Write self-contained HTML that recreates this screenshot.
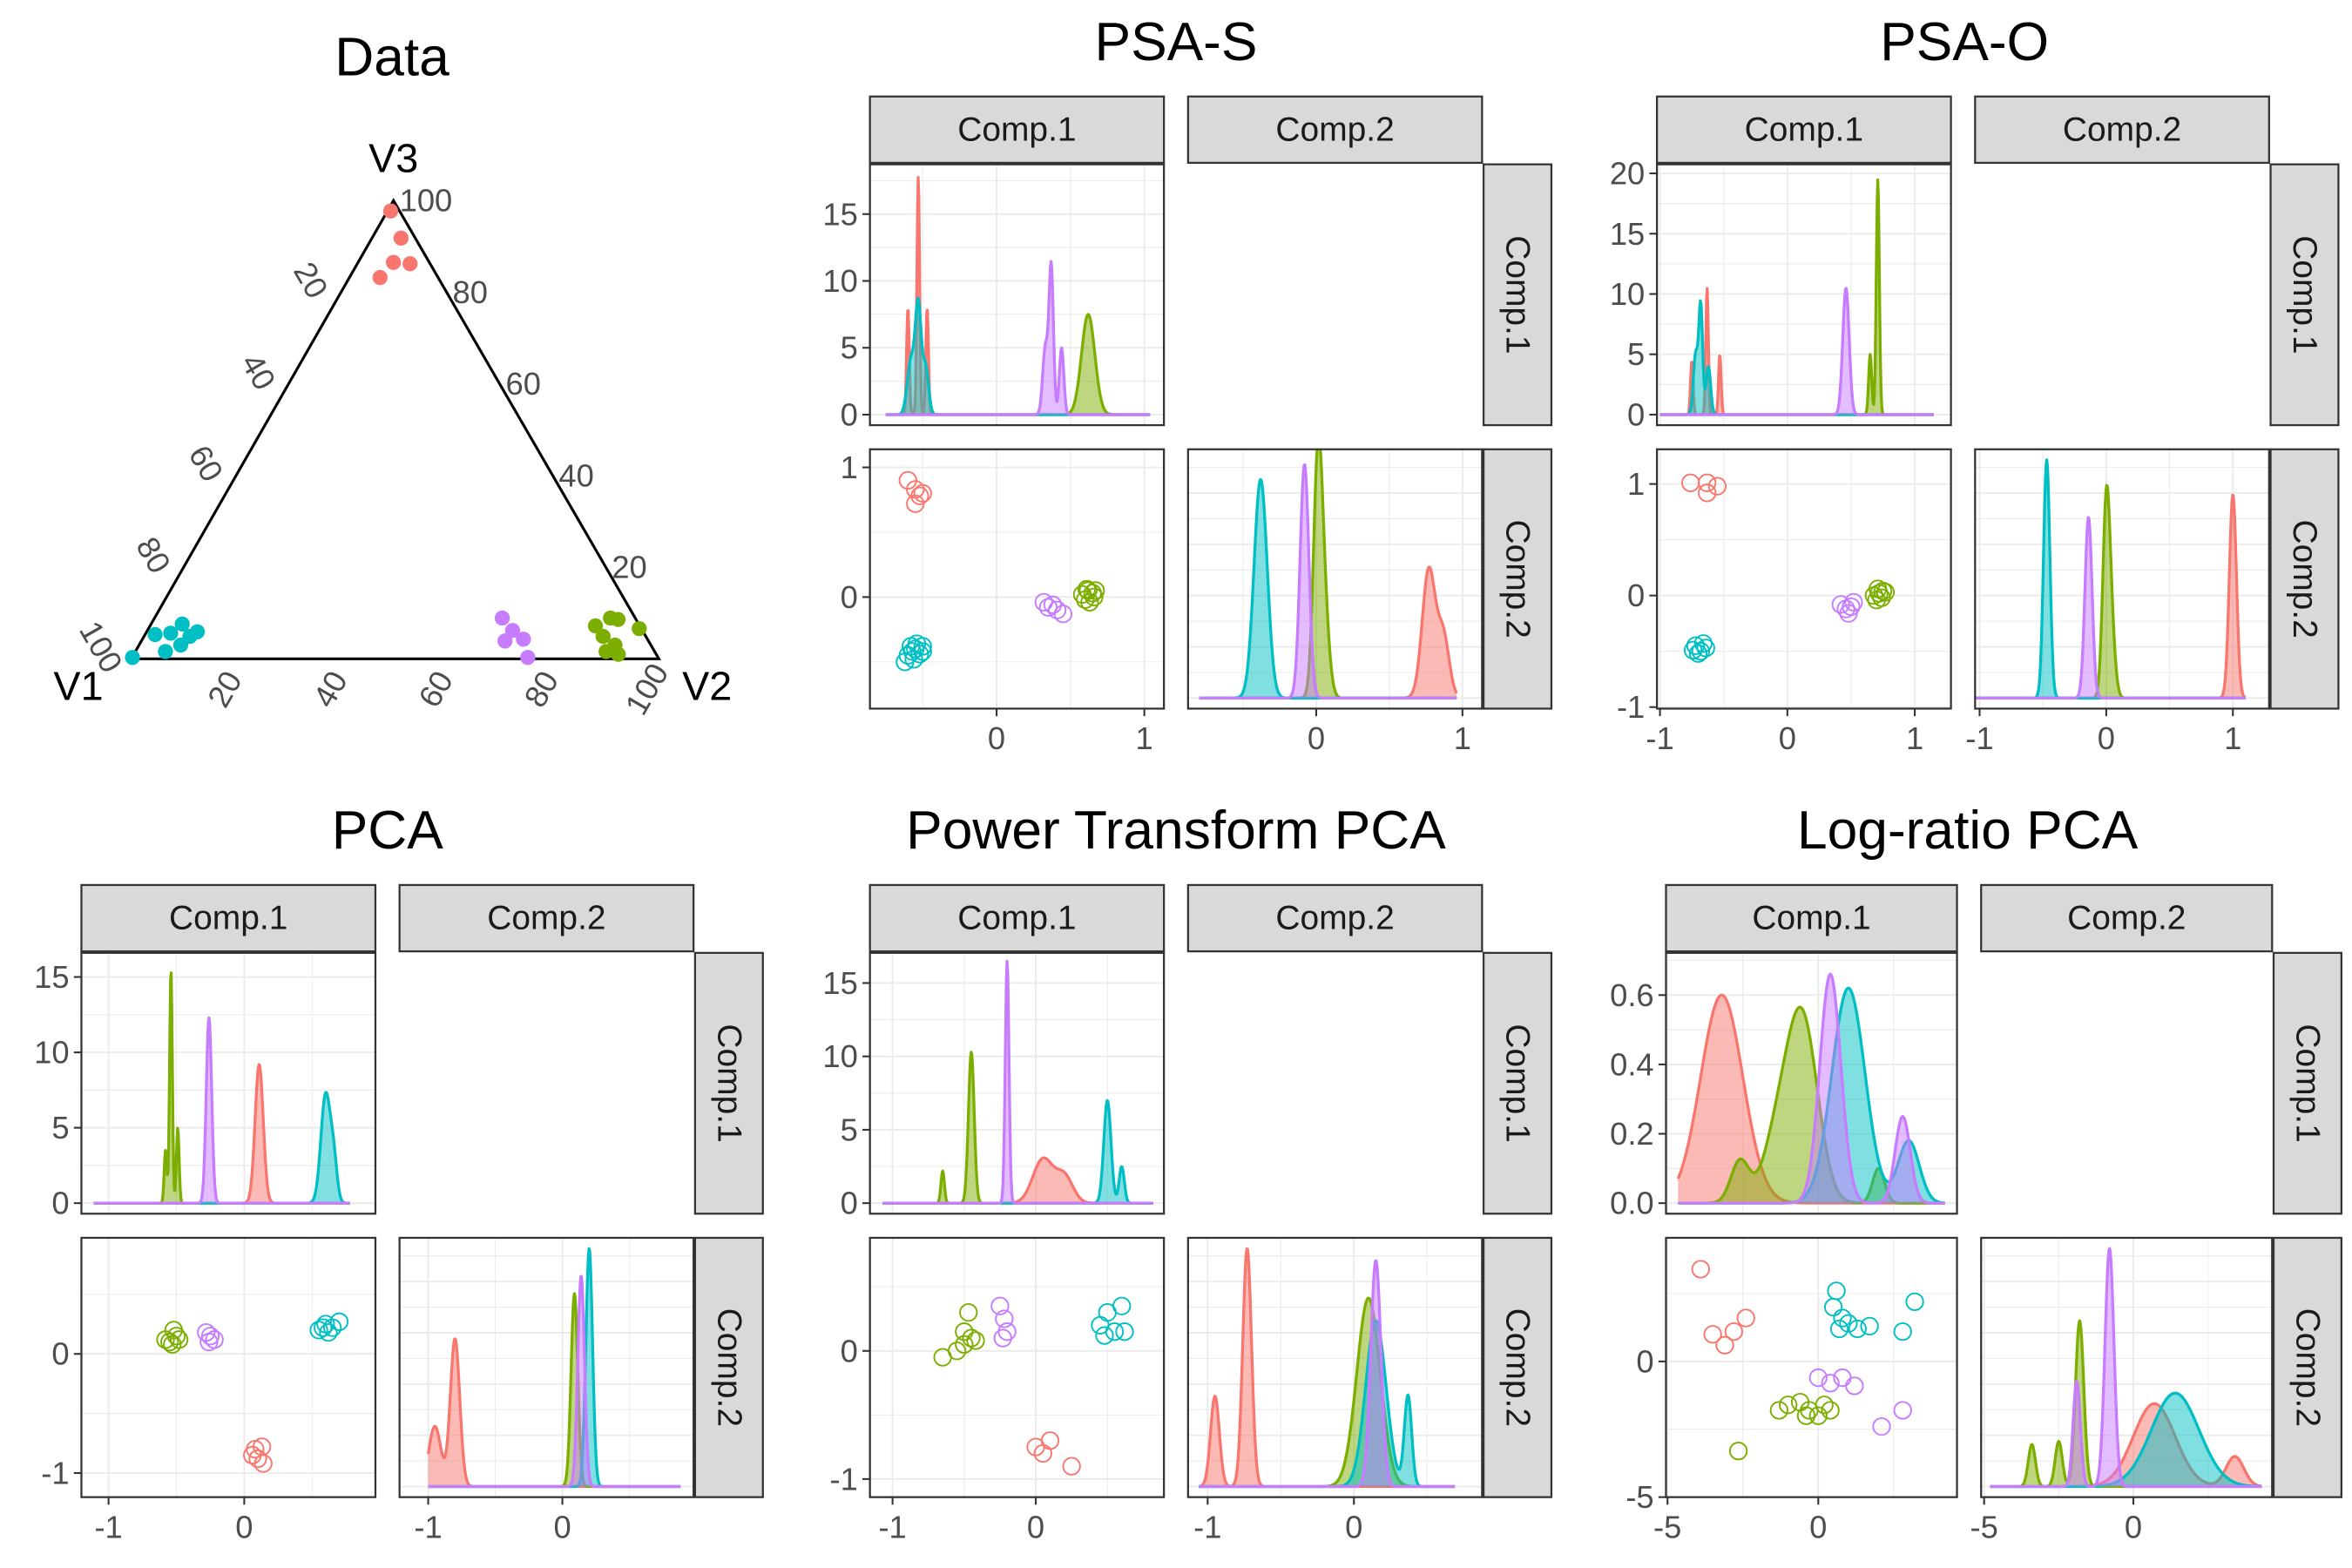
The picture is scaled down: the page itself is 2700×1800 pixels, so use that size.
<!DOCTYPE html>
<html><head><meta charset="utf-8"><style>body{margin:0;background:#fff}svg{display:block}text{font-family:"Liberation Sans",sans-serif}</style></head>
<body>
<svg id="fig" width="2700" height="1800" viewBox="0 0 1560 1040" xmlns="http://www.w3.org/2000/svg"></svg>
<script>
const COLORS = ['#F8766D','#7CAE00','#00BFC4','#C77CFF'];
// Ternary compositions [V1,V2,V3]
const terRed = [[.017,.006,.977],[.027,.055,.918],[.068,.067,.865],[.038,.1,.862],[.11,.058,.832]];
const terGreen = [[.084,.844,.072],[.047,.864,.089],[.034,.88,.086],[.081,.87,.049],[.068,.902,.03],[.092,.892,.016],[.072,.918,.01],[.004,.93,.066]];
const terCyan = [[.996,.001,.003],[.928,.019,.053],[.897,.047,.056],[.865,.059,.076],[.864,.087,.049],[.845,.096,.059],[.891,.079,.03],[.927,.057,.016]];
const terPurple = [[.252,.659,.089],[.246,.692,.062],[.272,.689,.039],[.235,.722,.043],[.247,.75,.003]];
const terTicks = [20,40,60,80,100];

// PSA-S
const psaS_d1 = [[[-0.6,.009,8],[-0.53,.009,17.8],[-0.47,.009,8]],[[0.62,.045,7.5]],[[-0.58,.025,4],[-0.53,.02,8],[-0.48,.02,3.5]],[[0.33,.018,5],[0.37,.015,11],[0.44,.015,5]]];
const psaS_sc = [[[-0.6,.9],[-0.55,.83],[-0.52,.78],[-0.5,.8],[-0.55,.72]],[[.58,.02],[.62,.05],[.65,.03],[.6,-.02],[.66,0],[.63,-.04],[.61,.06],[.67,.05]],[[-0.6,-0.45],[-0.55,-0.4],[-0.5,-0.38],[-0.57,-0.42],[-0.52,-0.44],[-0.62,-0.5],[-0.56,-0.48],[-0.5,-0.42],[-0.58,-0.38],[-0.54,-0.36]],[[.32,-.04],[.35,-.08],[.38,-.06],[.41,-.1],[.45,-.13]]];
const psaS_d2 = [[[0.77,.045,8.5],[0.87,.04,4]],[[0.01,.03,14],[0.05,.035,6]],[[-0.38,.045,14.5]],[[-0.08,.03,15.5]]];
// PSA-O
const psaO_d1 = [[[-0.75,.01,4.5],[-0.63,.01,10.5],[-0.53,.01,5]],[[0.65,.012,5],[0.71,.012,19.5]],[[-0.72,.018,5],[-0.68,.015,9],[-0.62,.018,4]],[[0.46,.025,10.5]]];
const psaO_sc = [[[-0.76,1.01],[-0.63,1.01],[-0.55,.98],[-0.63,.92]],[[.68,0],[.72,.02],[.75,.04],[.7,-.04],[.74,-.02],[.71,.06],[.77,.03]],[[-0.72,-0.45],[-0.68,-0.5],[-0.64,-0.47],[-0.7,-0.52],[-0.66,-0.43],[-0.74,-0.49]],[[.42,-.08],[.46,-.12],[.5,-.1],[.48,-.16],[.52,-.06]]];
const psaO_d2 = [[[1.0,.028,13.5]],[[0,.028,12.3],[.04,.03,4]],[[-0.47,.025,15.8]],[[-0.14,.028,12]]];
// PCA
const pca_d1 = [[[0.11,.03,9.2]],[[-0.58,.01,3.5],[-0.54,.01,15.5],[-0.49,.01,5]],[[0.6,.035,7.2],[0.66,.025,2.5]],[[-0.26,.02,12.3]]];
const pca_sc = [[[.08,-.8],[.13,-.78],[.1,-.88],[.14,-.92],[.06,-.85]],[[-0.55,.1],[-0.5,.15],[-0.48,.12],[-0.52,.2],[-0.58,.12],[-0.53,.08]],[[.55,.2],[.6,.25],[.65,.22],[.7,.27],[.62,.18],[.58,.22]],[[-0.28,.18],[-0.25,.15],[-0.22,.12],[-0.26,.1]]];
const pca_d2 = [[[-0.95,.045,4],[-0.8,.035,9.8]],[[0.09,.025,12.8]],[[0.2,.025,15.8]],[[0.14,.025,14]]];
// Power Transform PCA
const pow_d1 = [[[0.05,.07,3],[0.2,.06,1.8]],[[-0.65,.012,2.2],[-0.45,.02,10.3]],[[0.5,.025,7],[0.6,.018,2.5]],[[-0.2,.013,16.5]]];
const pow_sc = [[[0,-.75],[.05,-.8],[.1,-.7],[.25,-.9]],[[-0.65,-.05],[-0.5,.05],[-0.45,.1],[-0.5,.15],[-0.42,.08],[-0.47,.3],[-0.55,0]],[[.45,.2],[.5,.3],[.55,.15],[.6,.35],[.62,.15],[.48,.12]],[[-0.25,.35],[-0.22,.25],[-0.2,.15],[-0.23,.1]]];
const pow_d2 = [[[-0.95,.03,6],[-0.73,.03,15.8]],[[0.1,.08,12.5]],[[0.15,.07,11],[0.37,.025,6]],[[0.15,.035,15]]];
// Log-ratio PCA
const lr_d1 = [[[-3.2,.7,.6]],[[-2.6,.3,.12],[-1.3,.5,.2],[-0.5,.5,.5],[2.0,.2,.1]],[[1.0,.55,.62],[3.0,.35,.18]],[[0.4,.35,.66],[2.8,.25,.25]]];
const lr_sc = [[[-3.9,3.4],[-3.5,1],[-3.1,.6],[-2.8,1.1],[-2.4,1.6]],[[-2.65,-3.3],[-1.3,-1.8],[-1,-1.6],[-0.6,-1.5],[-0.3,-1.8],[0,-2],[.2,-1.6],[-0.4,-2],[.4,-1.8]],[[.6,2.6],[.5,2],[.8,1.6],[1,1.4],[1.3,1.2],[.7,1.2],[1.7,1.3],[3.2,2.2],[2.8,1.1]],[[0,-.6],[.4,-.8],[.8,-.6],[1.2,-.9],[2.1,-2.4],[2.8,-1.8]]];
const lr_d2 = [[[0.7,.7,5.5],[3.4,.3,2]],[[-3.4,.12,2.8],[-2.5,.12,3],[-1.8,.14,11]],[[1.4,.8,6.2]],[[-1.9,.12,7],[-0.8,.15,15.8]]];

const NS='http://www.w3.org/2000/svg';
const svg=document.getElementById('fig');
function el(tag,attrs,parent,txt){const e=document.createElementNS(NS,tag);for(const k in attrs)e.setAttribute(k,attrs[k]);if(txt!==undefined)e.textContent=txt;(parent||svg).appendChild(e);return e;}
function lin(v0,p0,v1,p1){const f=v=>p0+(v-v0)*(p1-p0)/(v1-v0);f.inv=p=>v0+(p-p0)*(v1-v0)/(p1-p0);return f;}
function gsum(comps,x){let s=0;for(const c of comps)s+=c[2]*Math.exp(-(x-c[0])*(x-c[0])/(2*c[1]*c[1]));return s;}
let clipId=0;
function panelRect(g,x,y,w,h,name){const r=el('rect',{x:x,y:y,width:w,height:h,fill:'#fff',stroke:'none'},g);return r;}
function border(g,x,y,w,h){const r=el('rect',{x:x,y:y,width:w,height:h,fill:'none',stroke:'#333','stroke-width':1.3},g);}
function grid(g,x,y,w,h,xs,xt,ys,yt){
  for(let i=0;i<xt.length;i++){const v=xt[i];for(const [vv,sw] of [[v,1.1],[v+(xt[1]-xt[0])/2,0.55],[v-(xt[1]-xt[0])/2,0.55]]){const p=xs(vv);if(p>x&&p<x+w)el('line',{x1:p,x2:p,y1:y,y2:y+h,stroke:'#ebebeb','stroke-width':sw},g);}}
  if(ys){for(let i=0;i<yt.length;i++){const v=yt[i];const st=yt.length>1?(yt[1]-yt[0])/2:0.5;for(const [vv,sw] of [[v,1.1],[v+st,0.55],[v-st,0.55]]){const p=ys(vv);if(p>y&&p<y+h)el('line',{x1:x,x2:x+w,y1:p,y2:p,stroke:'#ebebeb','stroke-width':sw},g);}}}
}
function densities(g,data,xs,base,unit,range,x,y,w,h){
  const cid='c'+(clipId++);const cp=el('clipPath',{id:cid},g);el('rect',{x:x,y:y,width:w,height:h},cp);
  const dg=el('g',{'clip-path':'url(#'+cid+')'},g);
  data.forEach((comps,gi)=>{
    let pts=[];const N=400;
    for(let i=0;i<=N;i++){const v=range[0]+(range[1]-range[0])*i/N;pts.push([xs(v),base-unit*gsum(comps,v)]);}
    const d='M'+pts.map(p=>p[0].toFixed(2)+','+p[1].toFixed(2)).join('L');
    const f=el('path',{d:d+'L'+pts[N][0]+','+base+'L'+pts[0][0]+','+base+'Z',fill:COLORS[gi],'fill-opacity':0.5,stroke:'none'},dg);
    
    const l=el('path',{d:d,fill:'none',stroke:COLORS[gi],'stroke-width':1.9,'stroke-linejoin':'round'},dg);
    
  });
}
function strip(g,x,y,w,h,label,vertical){
  const r=el('rect',{x:x,y:y,width:w,height:h,fill:'#d9d9d9',stroke:'#333','stroke-width':1.3},g);
  
  let t;
  if(vertical)t=el('text',{x:0,y:0,transform:'translate('+(x+w/2)+','+(y+h/2)+') rotate(90)','text-anchor':'middle','dominant-baseline':'central','font-size':22.5,fill:'#1a1a1a'},g,label);
  else t=el('text',{x:x+w/2,y:y+h/2,'text-anchor':'middle','dominant-baseline':'central','font-size':22.5,fill:'#1a1a1a'},g,label);
  
}
function xticks(g,xs,ticks,yb){ticks.forEach(v=>{const p=xs(v);el('line',{x1:p,x2:p,y1:yb,y2:yb+5,stroke:'#333','stroke-width':1.2},g);const t=el('text',{x:p,y:yb+27,'text-anchor':'middle','font-size':21,fill:'#4d4d4d'},g,String(v));});}
function yticks(g,ys,ticks,xl,fmt){ticks.forEach(v=>{const p=ys(v);el('line',{x1:xl-5,x2:xl,y1:p,y2:p,stroke:'#333','stroke-width':1.2},g);const t=el('text',{x:xl-8,y:p,'text-anchor':'end','dominant-baseline':'central','font-size':21,fill:'#4d4d4d'},g,fmt?fmt(v):String(v));});}

function block(c){
  const g=el('g',{});
  const X=c.X,Y=c.Y,W=c.W||195,G=16,c2=X+W+G;
  const t=el('text',{x:c.tx,y:c.ty,'text-anchor':'middle','dominant-baseline':'central','font-size':36,fill:'#000'},g,c.title);
  
  strip(g,X,Y,W,44,'Comp.1');strip(g,c2,Y,W,44,'Comp.2');
  const r1=Y+45,r2=Y+234,h1=173,h2=172;
  strip(g,c2+W+1,r1,45,h1,'Comp.1',true);strip(g,c2+W+1,r2,45,h2,'Comp.2',true);
  panelRect(g,X,r1,W,h1,'density-panel-comp1');grid(g,X,r1,W,h1,c.xs1,c.xt1,c.yd1,c.yt1);
  densities(g,c.d1,c.xs1,c.yd1(0),c.yd1(0)-c.yd1(1),c.rg1,X,r1,W,h1);border(g,X,r1,W,h1);
  panelRect(g,X,r2,W,h2,'scatter-panel');grid(g,X,r2,W,h2,c.xs1,c.xt1,c.ys2,c.yt2);
  c.sc.forEach((pts,gi)=>pts.forEach(p=>{const ci=el('circle',{cx:c.xs1(p[0]),cy:c.ys2(p[1]),r:5.6,fill:'none',stroke:COLORS[gi],'stroke-width':1.1},g);}));
  border(g,X,r2,W,h2);
  panelRect(g,c2,r2,W,h2,'density-panel-comp2');
  const yd2=lin(0,Y+399,1,Y+389);const gl=[];for(let v=0;v<=17;v+=3.4)gl.push(Math.round(v*10)/10);
  grid(g,c2,r2,W,h2,c.xs2,c.xt2,yd2,gl);
  densities(g,c.d2,c.xs2,Y+399,10,c.rg2,c2,r2,W,h2);border(g,c2,r2,W,h2);
  yticks(g,c.yd1,c.yt1,X,c.fmt1);yticks(g,c.ys2,c.yt2,X);
  xticks(g,c.xs1,c.xt1,r2+h2);xticks(g,c.xs2,c.xt2,r2+h2);
}

block({name:'psa-s-plot',title:'PSA-S',tx:780,ty:28,X:577,Y:64,xs1:lin(0,661,1,759),xt1:[0,1],xs2:lin(0,873,1,970),xt2:[0,1],yd1:lin(0,275,15,142),yt1:[0,5,10,15],ys2:lin(0,396,1,310),yt2:[0,1],d1:psaS_d1,sc:psaS_sc,d2:psaS_d2,rg1:[-0.75,1.04],rg2:[-0.8,0.96]});
block({name:'psa-o-plot',title:'PSA-O',tx:1303,ty:28,X:1099,Y:64,xs1:lin(-1,1101,1,1270),xt1:[-1,0,1],xs2:lin(-1,1313,1,1481),xt2:[-1,0,1],yd1:lin(0,275,20,115),yt1:[0,5,10,15,20],ys2:lin(-1,469,1,321),yt2:[-1,0,1],d1:psaO_d1,sc:psaO_sc,d2:psaO_d2,rg1:[-1,1.15],rg2:[-1.05,1.1]});
block({name:'pca-plot',title:'PCA',tx:257,ty:551,X:54,Y:587,xs1:lin(-1,72,0,162),xt1:[-1,0],xs2:lin(-1,284,0,373),xt2:[-1,0],yd1:lin(0,798,15,648),yt1:[0,5,10,15],ys2:lin(-1,977,0,898),yt2:[-1,0],d1:pca_d1,sc:pca_sc,d2:pca_d2,rg1:[-1.11,0.78],rg2:[-1,0.88]});
block({name:'power-pca-plot',title:'Power Transform PCA',tx:780,ty:551,X:577,Y:587,xs1:lin(-1,592,0,687),xt1:[-1,0],xs2:lin(-1,801,0,898),xt2:[-1,0],yd1:lin(0,798,15,652),yt1:[0,5,10,15],ys2:lin(-1,981,0,896),yt2:[-1,0],d1:pow_d1,sc:pow_sc,d2:pow_d2,rg1:[-1.07,0.82],rg2:[-1.06,0.69]});
block({name:'log-ratio-pca-plot',title:'Log-ratio PCA',tx:1305,ty:551,X:1105,Y:587,W:193,xs1:lin(-5,1106,0,1206),xt1:[-5,0],xs2:lin(-5,1316,0,1415),xt2:[-5,0],yd1:lin(0,798,0.6,660),yt1:[0,0.2,0.4,0.6],fmt1:v=>v.toFixed(1),ys2:lin(-5,993,0,903),yt2:[-5,0],d1:lr_d1,sc:lr_sc,d2:lr_d2,rg1:[-4.65,4.2],rg2:[-4.8,4.3]});

// Ternary
(function(){
  const g=el('g',{});
  const V1=[87,437],V2=[437,437],V3=[261,133];
  const P=a=>[a[0]*V1[0]+a[1]*V2[0]+a[2]*V3[0],a[0]*V1[1]+a[1]*V2[1]+a[2]*V3[1]];
  const t=el('text',{x:260,y:38,'text-anchor':'middle','dominant-baseline':'central','font-size':36},g,'Data');
  const tri=el('polygon',{points:[V1,V2,V3].map(p=>p.join(',')).join(' '),fill:'none',stroke:'#000','stroke-width':1.8},g);
  [terRed,terGreen,terCyan,terPurple].forEach((pts,gi)=>pts.forEach(a=>{const p=P(a);const c=el('circle',{cx:p[0],cy:p[1],r:5,fill:COLORS[gi]},g);}));
  terTicks.forEach(v=>{const f=v/100;
    let p=P([1-f,f,0]);let tx=el('text',{transform:'translate('+(p[0]-8)+','+(p[1]+20)+') rotate(-60)','text-anchor':'middle','dominant-baseline':'central','font-size':21,fill:'#4d4d4d'},g,String(v));
    p=P([0,1-f,f]);tx=el('text',{x:p[0]+4,y:p[1],'text-anchor':'start','dominant-baseline':'central','font-size':21,fill:'#4d4d4d'},g,String(v));
    p=P([f,0,1-f]);tx=el('text',{transform:'translate('+(p[0]-20)+','+(p[1]-8)+') rotate(60)','text-anchor':'middle','dominant-baseline':'central','font-size':21,fill:'#4d4d4d'},g,String(v));
  });
  [['V3',261,105],['V1',52,455],['V2',469,455]].forEach(l=>{const tx=el('text',{x:l[1],y:l[2],'text-anchor':'middle','dominant-baseline':'central','font-size':27},g,l[0]);});
})();
</script>
</body></html>
